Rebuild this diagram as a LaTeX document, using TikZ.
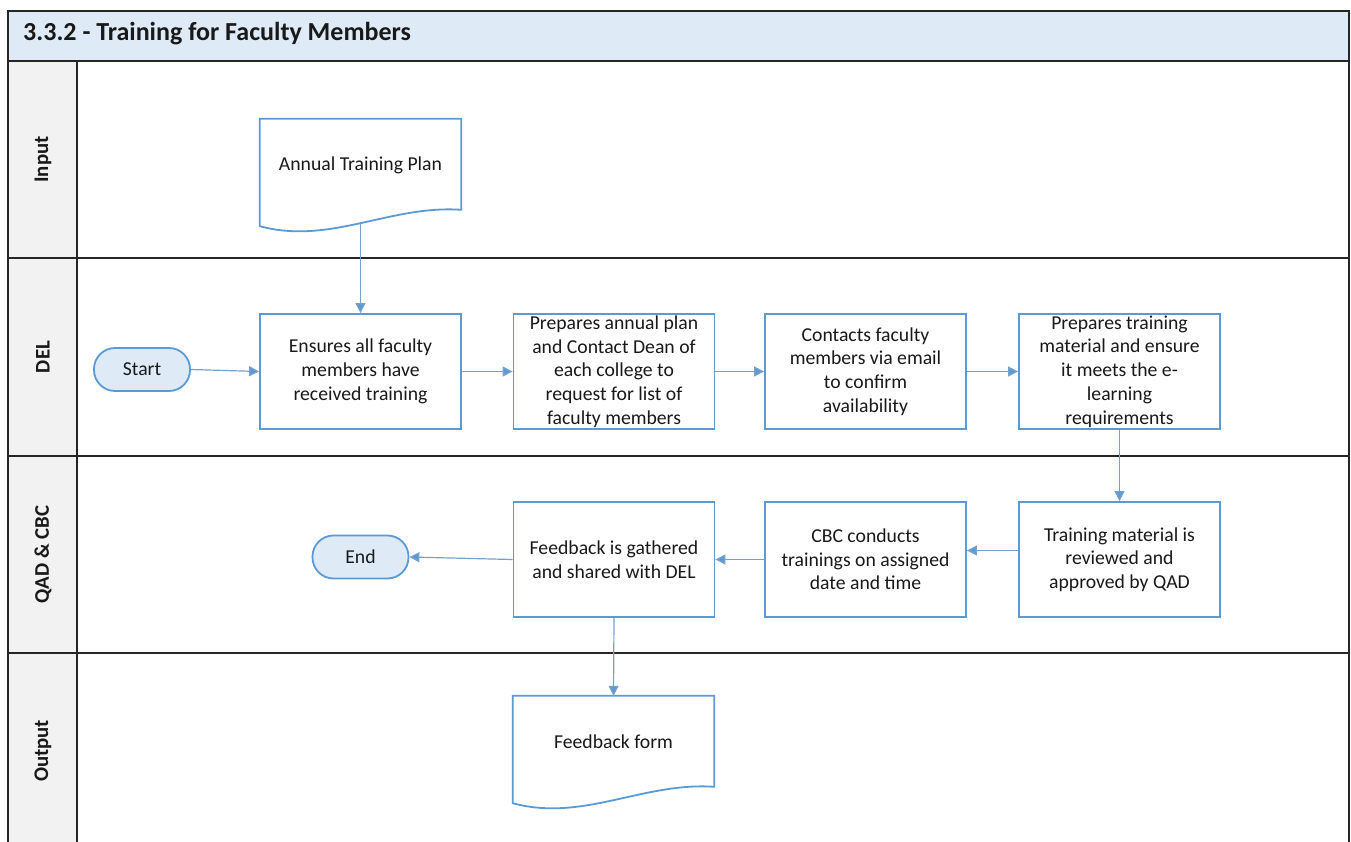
\documentclass[tikz,border=0pt]{standalone}
\usepackage{fontspec}
\setmainfont{Carlito}
\usetikzlibrary{arrows.meta}
\definecolor{flowblue}{RGB}{91,155,213}
\definecolor{linkblue}{RGB}{120,160,205}
\definecolor{headfill}{RGB}{222,235,247}
\definecolor{lanefill}{RGB}{242,242,242}
\definecolor{framegray}{RGB}{38,38,38}
\definecolor{ink}{RGB}{25,25,25}
\tikzset{
  bodyfont/.style={font=\fontsize{19.7}{23.7}\selectfont, text=ink},
  procbox/.style={draw=flowblue, line width=1.8pt, fill=white, minimum width=201pt,
    minimum height=115pt, inner sep=0pt, align=center, bodyfont},
  termbox/.style={draw=flowblue, line width=1.8pt, fill=headfill, rounded corners=21pt,
    minimum width=96pt, minimum height=43pt, inner sep=0pt, bodyfont},
  docnode/.style={minimum width=201pt, text height=52pt, text depth=52pt, inner sep=0pt, bodyfont},
  docline/.style={draw=flowblue, line width=1.8pt, fill=white},
  lanelabel/.style={rotate=90, font=\bfseries\fontsize{20.8}{25}\selectfont, text=ink},
  frameline/.style={draw=framegray, line width=1.8pt},
  flow/.style={draw=linkblue, line width=1.2pt, -{Triangle[length=10pt,width=10pt,fill=flowblue]}},
}
\begin{document}
\begin{tikzpicture}[x=1pt,y=-1pt]
  \useasboundingbox (0,0) rectangle (1351,842);
  \fill[white] (0,0) rectangle (1351,842);

  % title band and lane label column
  \fill[headfill] (8,11) rectangle (1349,61);
  \fill[lanefill] (8,61) rectangle (77,850);
  \node[anchor=west, font=\bfseries\fontsize{26}{31}\selectfont, text=ink, inner sep=0pt] (title) at (23,34) {3.3.2 - Training for Faculty Members};

  % swimlane frame
  \draw[frameline] (8,850) -- (8,11) -- (1349,11) -- (1349,850);
  \draw[frameline] (8,61) -- (1349,61);
  \draw[frameline] (8,258) -- (1349,258);
  \draw[frameline] (8,456) -- (1349,456);
  \draw[frameline] (8,653) -- (1349,653);
  \draw[frameline] (77,61) -- (77,850);

  % lane names
  \node[lanelabel] (laneIn) at (43,159.5) {Input};
  \node[lanelabel] (laneDel) at (43,357) {DEL};
  \node[lanelabel] (laneQc) at (43,554.5) {QAD \& CBC};
  \node[lanelabel] (laneOut) at (43,751) {Output};

  % input document
  \node[docnode] (plan) at (360.5,171) {};
  \draw[docline] (plan.north west) -- (plan.north east) -- ++(0,91)
    .. controls +(-71,-5) and +(70,19) .. ([yshift=-3pt]plan.south west) -- cycle;
  \node[docnode] at (plan) {Annual Training Plan};

  % DEL lane
  \node[termbox] (start) at (142,369.5) {Start};
  \node[procbox] (ensure) at (360.5,371.5) {Ensures all faculty\\members have\\received training};
  \node[procbox] (prepplan) at (614,371.5) {Prepares annual plan\\and Contact Dean of\\each college to\\request for list of\\faculty members};
  \node[procbox] (contact) at (865.5,371.5) {Contacts faculty\\members via email\\to confirm\\availability};
  \node[procbox] (prepmat) at (1119.5,371.5) {Prepares training\\material and ensure\\it meets the e-\\learning\\requirements};

  % QAD & CBC lane
  \node[procbox] (review) at (1119.5,559.5) {Training material is\\reviewed and\\approved by QAD};
  \node[procbox] (conduct) at (865.5,559.5) {CBC conducts\\trainings on assigned\\date and time};
  \node[procbox] (feedback) at (614,559.5) {Feedback is gathered\\and shared with DEL};
  \node[termbox] (end) at (360.5,557) {End};

  % output document
  \node[docnode] (form) at (613.5,748) {};
  \draw[docline] (form.north west) -- (form.north east) -- ++(0,91)
    .. controls +(-71,-5) and +(70,19) .. ([yshift=-3pt]form.south west) -- cycle;
  \node[docnode] at (form) {Feedback form};

  % connectors
  \draw[flow] (plan.south) -- (ensure.north);
  \draw[flow] (start.east) -- (ensure.west);
  \draw[flow] (ensure.east) -- (prepplan.west);
  \draw[flow] (prepplan.east) -- (contact.west);
  \draw[flow] (contact.east) -- (prepmat.west);
  \draw[flow] (prepmat.south) -- (review.north);
  \draw[flow] ([yshift=9pt]review.west) -- ([yshift=9pt]conduct.east);
  \draw[flow] (conduct.west) -- (feedback.east);
  \draw[flow] (feedback.west) -- (end.east);
  \draw[flow] (feedback.south) -- (form.north);
\end{tikzpicture}
\end{document}
